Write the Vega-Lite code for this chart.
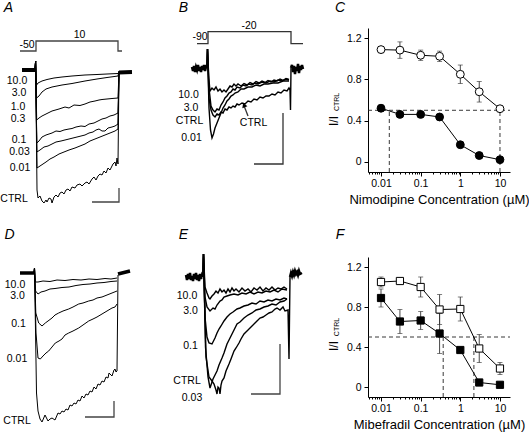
{
"$schema": "https://vega.github.io/schema/vega-lite/v6.json",
"background": "white",
"padding": 0,
"columns": 3,
"align": "each",
"bounds": "flush",
"spacing": {"row": 51, "column": 25},
"config": {
 "font": "Liberation Sans",
 "view": {"stroke": null},
 "axis": {"grid": false, "domainColor": "black", "tickColor": "black", "labelColor": "black", "titleColor": "black", "labelFontSize": 10.5, "titleFontWeight": "normal", "labelFont": "Liberation Sans", "titleFont": "Liberation Sans"},
 "text": {"font": "Liberation Sans", "fontSize": 10.5, "color": "black"}
},
"datasets": {
 "a_hold": [{"s":"pre","t":-14,"i":0},{"s":"pre","t":-1,"i":0},{"s":"post","t":83,"i":-2.5},{"s":"post","t":96,"i":-2}],
 "a_tr": [
  {"s":"10.0","t":-1,"i":0},{"s":"10.0","t":-0.4,"i":9},{"s":"10.0","t":0.6,"i":-15},{"s":"10.0","t":2,"i":-13},{"s":"10.0","t":6,"i":-11},{"s":"10.0","t":11,"i":-9.5},{"s":"10.0","t":18,"i":-8},{"s":"10.0","t":26,"i":-7},{"s":"10.0","t":36,"i":-6},{"s":"10.0","t":49,"i":-5},{"s":"10.0","t":61,"i":-4.5},{"s":"10.0","t":71,"i":-4},{"s":"10.0","t":82,"i":-3.5},{"s":"10.0","t":83,"i":-1.5},
  {"s":"3.0","t":-1,"i":0},{"s":"3.0","t":-0.4,"i":9},{"s":"3.0","t":0.6,"i":-28},{"s":"3.0","t":3,"i":-26},{"s":"3.0","t":6,"i":-22},{"s":"3.0","t":10,"i":-19},{"s":"3.0","t":16,"i":-17},{"s":"3.0","t":26,"i":-15},{"s":"3.0","t":36,"i":-13.5},{"s":"3.0","t":49,"i":-11},{"s":"3.0","t":61,"i":-9},{"s":"3.0","t":71,"i":-7.5},{"s":"3.0","t":82,"i":-6},{"s":"3.0","t":83,"i":-1.5},
  {"s":"0.3","t":-1,"i":0},{"s":"0.3","t":-0.4,"i":9},{"s":"0.3","t":0.7,"i":-50},{"s":"0.3","t":3,"i":-48},{"s":"0.3","t":6,"i":-46},{"s":"0.3","t":10,"i":-44},{"s":"0.3","t":16,"i":-41},{"s":"0.3","t":23,"i":-39},{"s":"0.3","t":29,"i":-37},{"s":"0.3","t":33,"i":-38},{"s":"0.3","t":38,"i":-35},{"s":"0.3","t":44,"i":-35.5},{"s":"0.3","t":49,"i":-34},{"s":"0.3","t":54,"i":-32},{"s":"0.3","t":59,"i":-31},{"s":"0.3","t":63,"i":-30},{"s":"0.3","t":66,"i":-29.5},{"s":"0.3","t":71,"i":-29},{"s":"0.3","t":76,"i":-28.5},{"s":"0.3","t":82,"i":-28},{"s":"0.3","t":83,"i":-1.5},
  {"s":"0.1","t":-1,"i":0},{"s":"0.1","t":-0.4,"i":9},{"s":"0.1","t":0.8,"i":-73},{"s":"0.1","t":3,"i":-71},{"s":"0.1","t":6,"i":-67},{"s":"0.1","t":10,"i":-65},{"s":"0.1","t":13,"i":-64},{"s":"0.1","t":16,"i":-63},{"s":"0.1","t":20,"i":-61},{"s":"0.1","t":24,"i":-61.5},{"s":"0.1","t":28,"i":-60},{"s":"0.1","t":33,"i":-59},{"s":"0.1","t":36,"i":-58.5},{"s":"0.1","t":40,"i":-57},{"s":"0.1","t":45,"i":-56},{"s":"0.1","t":49,"i":-56.5},{"s":"0.1","t":53,"i":-54},{"s":"0.1","t":58,"i":-53},{"s":"0.1","t":62,"i":-51},{"s":"0.1","t":66,"i":-49},{"s":"0.1","t":70,"i":-48},{"s":"0.1","t":74,"i":-46},{"s":"0.1","t":78,"i":-45},{"s":"0.1","t":82,"i":-43},{"s":"0.1","t":83,"i":-1.5},
  {"s":"0.03","t":-1,"i":0},{"s":"0.03","t":-0.4,"i":9},{"s":"0.03","t":0.9,"i":-82},{"s":"0.03","t":4,"i":-80},{"s":"0.03","t":8,"i":-77},{"s":"0.03","t":12,"i":-76},{"s":"0.03","t":16,"i":-74},{"s":"0.03","t":20,"i":-72},{"s":"0.03","t":25,"i":-71},{"s":"0.03","t":29,"i":-70},{"s":"0.03","t":33,"i":-69},{"s":"0.03","t":37,"i":-68},{"s":"0.03","t":41,"i":-67},{"s":"0.03","t":45,"i":-66},{"s":"0.03","t":49,"i":-65},{"s":"0.03","t":53,"i":-63},{"s":"0.03","t":57,"i":-62},{"s":"0.03","t":60,"i":-60},{"s":"0.03","t":63,"i":-59},{"s":"0.03","t":66,"i":-61},{"s":"0.03","t":69,"i":-61},{"s":"0.03","t":72,"i":-58},{"s":"0.03","t":76,"i":-57},{"s":"0.03","t":79,"i":-56},{"s":"0.03","t":82,"i":-54},{"s":"0.03","t":83,"i":-1.5},
  {"s":"0.01","t":-1,"i":0},{"s":"0.01","t":-0.4,"i":9},{"s":"0.01","t":1,"i":-98},{"s":"0.01","t":4,"i":-96},{"s":"0.01","t":7,"i":-94},{"s":"0.01","t":10,"i":-92},{"s":"0.01","t":14,"i":-89},{"s":"0.01","t":18,"i":-87},{"s":"0.01","t":23,"i":-84},{"s":"0.01","t":28,"i":-82},{"s":"0.01","t":33,"i":-80},{"s":"0.01","t":39,"i":-78},{"s":"0.01","t":44,"i":-76},{"s":"0.01","t":49,"i":-74},{"s":"0.01","t":54,"i":-71},{"s":"0.01","t":59,"i":-69},{"s":"0.01","t":64,"i":-67},{"s":"0.01","t":69,"i":-65},{"s":"0.01","t":74,"i":-63},{"s":"0.01","t":79,"i":-61},{"s":"0.01","t":82,"i":-59},{"s":"0.01","t":83,"i":-1.5},
  {"s":"CTRL","t":-1,"i":0},{"s":"CTRL","t":-0.4,"i":9},{"s":"CTRL","t":1,"i":-120},{"s":"CTRL","t":2,"i":-128},{"s":"CTRL","t":4,"i":-126},{"s":"CTRL","t":6,"i":-131},{"s":"CTRL","t":8,"i":-133},{"s":"CTRL","t":10,"i":-130},{"s":"CTRL","t":11,"i":-132},{"s":"CTRL","t":13,"i":-128},{"s":"CTRL","t":15,"i":-129},{"s":"CTRL","t":16,"i":-133},{"s":"CTRL","t":18,"i":-127},{"s":"CTRL","t":20,"i":-125},{"s":"CTRL","t":22,"i":-127},{"s":"CTRL","t":24,"i":-123},{"s":"CTRL","t":26,"i":-122},{"s":"CTRL","t":28,"i":-124},{"s":"CTRL","t":30,"i":-120},{"s":"CTRL","t":32,"i":-119},{"s":"CTRL","t":34,"i":-121},{"s":"CTRL","t":36,"i":-117},{"s":"CTRL","t":39,"i":-118},{"s":"CTRL","t":41,"i":-115},{"s":"CTRL","t":44,"i":-114},{"s":"CTRL","t":46,"i":-116},{"s":"CTRL","t":49,"i":-113},{"s":"CTRL","t":51,"i":-112},{"s":"CTRL","t":53,"i":-114},{"s":"CTRL","t":56,"i":-109},{"s":"CTRL","t":58,"i":-107},{"s":"CTRL","t":60,"i":-110},{"s":"CTRL","t":62,"i":-106},{"s":"CTRL","t":64,"i":-104},{"s":"CTRL","t":66,"i":-105},{"s":"CTRL","t":68,"i":-101},{"s":"CTRL","t":70,"i":-103},{"s":"CTRL","t":72,"i":-98},{"s":"CTRL","t":74,"i":-100},{"s":"CTRL","t":76,"i":-96},{"s":"CTRL","t":77,"i":-94},{"s":"CTRL","t":79,"i":-92},{"s":"CTRL","t":80,"i":-96},{"s":"CTRL","t":81,"i":-88},{"s":"CTRL","t":82,"i":-94},{"s":"CTRL","t":83,"i":-1.5}
 ],
 "a_shp": [{"g":"prot","k":0,"t":-16,"i":19},{"g":"prot","k":1,"t":0,"i":19},{"g":"prot","k":2,"t":0,"i":29},{"g":"prot","k":3,"t":82,"i":29},{"g":"prot","k":4,"t":82,"i":19},{"g":"prot","k":5,"t":86,"i":19},
  {"g":"bar","k":0,"t":56,"i":-132},{"g":"bar","k":1,"t":83,"i":-132},{"g":"bar","k":2,"t":83,"i":-118}],
 "a_txt": [{"txt":"-50","t":-9,"i":25.5},{"txt":"10","t":43.5,"i":35.5},{"txt":"10.0","t":-19,"i":-11},{"txt":"3.0","t":-17,"i":-23},{"txt":"1.0","t":-18,"i":-37},{"txt":"0.3","t":-18,"i":-49},{"txt":"0.1","t":-17,"i":-70},{"txt":"0.03","t":-16.5,"i":-82},{"txt":"0.01","t":-16,"i":-98},{"txt":"CTRL","t":-22,"i":-129}],

 "b_hold": [{"s":"pre","t":-16,"i":1},{"s":"pre","t":-15,"i":-3},{"s":"pre","t":-14,"i":2},{"s":"pre","t":-13,"i":-4},{"s":"pre","t":-12,"i":1},{"s":"pre","t":-11,"i":-2},{"s":"pre","t":-10,"i":3},{"s":"pre","t":-9,"i":-3},{"s":"pre","t":-8,"i":1},{"s":"pre","t":-7,"i":-4},{"s":"pre","t":-6,"i":2},{"s":"pre","t":-5,"i":-2},{"s":"pre","t":-4,"i":3},{"s":"pre","t":-3,"i":-3},{"s":"pre","t":-2,"i":1},{"s":"pre","t":-1,"i":0},
  {"s":"post","t":83,"i":0},{"s":"post","t":84,"i":3},{"s":"post","t":85,"i":-4},{"s":"post","t":86,"i":2},{"s":"post","t":87,"i":-6},{"s":"post","t":88,"i":1},{"s":"post","t":89,"i":-3},{"s":"post","t":90,"i":4},{"s":"post","t":91,"i":-5},{"s":"post","t":92,"i":2},{"s":"post","t":93,"i":-2},{"s":"post","t":94,"i":3},{"s":"post","t":95,"i":-1}],
 "b_tr": [
  {"s":"10.0","t":-1,"i":0},{"s":"10.0","t":-0.5,"i":19},{"s":"10.0","t":0.8,"i":-10},{"s":"10.0","t":2,"i":-23},{"s":"10.0","t":4,"i":-20},{"s":"10.0","t":6,"i":-22},{"s":"10.0","t":8,"i":-19},{"s":"10.0","t":10,"i":-23},{"s":"10.0","t":12,"i":-21},{"s":"10.0","t":14,"i":-24},{"s":"10.0","t":16,"i":-22},{"s":"10.0","t":18,"i":-24},{"s":"10.0","t":20,"i":-21},{"s":"10.0","t":22,"i":-18},{"s":"10.0","t":24,"i":-19},{"s":"10.0","t":26,"i":-16},{"s":"10.0","t":28,"i":-18},{"s":"10.0","t":30,"i":-16},{"s":"10.0","t":33,"i":-18},{"s":"10.0","t":36,"i":-15.5},{"s":"10.0","t":39,"i":-17},{"s":"10.0","t":42,"i":-14.5},{"s":"10.0","t":45,"i":-16},{"s":"10.0","t":48,"i":-13.5},{"s":"10.0","t":51,"i":-15},{"s":"10.0","t":54,"i":-13},{"s":"10.0","t":57,"i":-14.5},{"s":"10.0","t":60,"i":-12.5},{"s":"10.0","t":63,"i":-14},{"s":"10.0","t":66,"i":-12},{"s":"10.0","t":69,"i":-13},{"s":"10.0","t":72,"i":-11},{"s":"10.0","t":75,"i":-12.5},{"s":"10.0","t":78,"i":-10.5},{"s":"10.0","t":81,"i":-11.5},
  {"s":"3.0","t":-1,"i":0},{"s":"3.0","t":-0.5,"i":19},{"s":"3.0","t":1,"i":-20},{"s":"3.0","t":3,"i":-38},{"s":"3.0","t":5,"i":-42},{"s":"3.0","t":7,"i":-44},{"s":"3.0","t":9,"i":-41},{"s":"3.0","t":11,"i":-42},{"s":"3.0","t":13,"i":-37},{"s":"3.0","t":15,"i":-34},{"s":"3.0","t":17,"i":-30},{"s":"3.0","t":19,"i":-28},{"s":"3.0","t":21,"i":-25},{"s":"3.0","t":23,"i":-24},{"s":"3.0","t":25,"i":-21},{"s":"3.0","t":27,"i":-22},{"s":"3.0","t":29,"i":-19},{"s":"3.0","t":32,"i":-20},{"s":"3.0","t":35,"i":-17},{"s":"3.0","t":38,"i":-18},{"s":"3.0","t":41,"i":-16},{"s":"3.0","t":44,"i":-17},{"s":"3.0","t":47,"i":-15},{"s":"3.0","t":50,"i":-16},{"s":"3.0","t":54,"i":-14},{"s":"3.0","t":58,"i":-15},{"s":"3.0","t":62,"i":-13},{"s":"3.0","t":66,"i":-14},{"s":"3.0","t":70,"i":-12},{"s":"3.0","t":74,"i":-13},{"s":"3.0","t":78,"i":-11},{"s":"3.0","t":81,"i":-12},
  {"s":"CTRL","t":-1,"i":0},{"s":"CTRL","t":-0.5,"i":19},{"s":"CTRL","t":1,"i":-30},{"s":"CTRL","t":3,"i":-42},{"s":"CTRL","t":5,"i":-47},{"s":"CTRL","t":7,"i":-49},{"s":"CTRL","t":9,"i":-46},{"s":"CTRL","t":11,"i":-47},{"s":"CTRL","t":13,"i":-44},{"s":"CTRL","t":15,"i":-45},{"s":"CTRL","t":17,"i":-41},{"s":"CTRL","t":19,"i":-42},{"s":"CTRL","t":21,"i":-39},{"s":"CTRL","t":23,"i":-40},{"s":"CTRL","t":25,"i":-38},{"s":"CTRL","t":27,"i":-39},{"s":"CTRL","t":29,"i":-36},{"s":"CTRL","t":31,"i":-37},{"s":"CTRL","t":34,"i":-35},{"s":"CTRL","t":37,"i":-36},{"s":"CTRL","t":40,"i":-33},{"s":"CTRL","t":43,"i":-34},{"s":"CTRL","t":46,"i":-31},{"s":"CTRL","t":49,"i":-32},{"s":"CTRL","t":52,"i":-29},{"s":"CTRL","t":55,"i":-30},{"s":"CTRL","t":58,"i":-28},{"s":"CTRL","t":61,"i":-28},{"s":"CTRL","t":64,"i":-26},{"s":"CTRL","t":67,"i":-27},{"s":"CTRL","t":70,"i":-24},{"s":"CTRL","t":73,"i":-25},{"s":"CTRL","t":76,"i":-22},{"s":"CTRL","t":79,"i":-23},{"s":"CTRL","t":81,"i":-20},{"s":"CTRL","t":82,"i":-22},{"s":"CTRL","t":82.5,"i":-42},{"s":"CTRL","t":83,"i":0},
  {"s":"0.01","t":-1,"i":0},{"s":"0.01","t":-0.5,"i":19},{"s":"0.01","t":1,"i":-40},{"s":"0.01","t":2.5,"i":-62},{"s":"0.01","t":4,"i":-70},{"s":"0.01","t":5.5,"i":-66},{"s":"0.01","t":7,"i":-60},{"s":"0.01","t":9,"i":-55},{"s":"0.01","t":11,"i":-50},{"s":"0.01","t":13,"i":-45},{"s":"0.01","t":15,"i":-40},{"s":"0.01","t":17,"i":-37},{"s":"0.01","t":19,"i":-33},{"s":"0.01","t":21,"i":-31},{"s":"0.01","t":23,"i":-28},{"s":"0.01","t":25,"i":-27},{"s":"0.01","t":27,"i":-25},{"s":"0.01","t":30,"i":-24},{"s":"0.01","t":33,"i":-21},{"s":"0.01","t":36,"i":-21},{"s":"0.01","t":40,"i":-19},{"s":"0.01","t":44,"i":-19},{"s":"0.01","t":48,"i":-17},{"s":"0.01","t":52,"i":-18},{"s":"0.01","t":56,"i":-16},{"s":"0.01","t":60,"i":-16},{"s":"0.01","t":65,"i":-15},{"s":"0.01","t":70,"i":-15},{"s":"0.01","t":75,"i":-13},{"s":"0.01","t":81,"i":-13}
 ],
 "b_shp": [{"g":"prot","k":0,"t":-11,"i":24.3},{"g":"prot","k":1,"t":0,"i":24.3},{"g":"prot","k":2,"t":0,"i":36.3},{"g":"prot","k":3,"t":83,"i":36.3},{"g":"prot","k":4,"t":83,"i":24.3},{"g":"prot","k":5,"t":95,"i":24.3},
  {"g":"bar","k":0,"t":46,"i":-96},{"g":"bar","k":1,"t":75,"i":-96},{"g":"bar","k":2,"t":75,"i":-45},
  {"g":"arrow","k":0,"t":40,"i":-48},{"g":"arrow","k":1,"t":36.5,"i":-39}],
 "b_txt": [{"txt":"-90","t":-8,"i":31},{"txt":"-20","t":41,"i":42},{"txt":"10.0","t":-19.5,"i":-27},{"txt":"3.0","t":-17,"i":-40},{"txt":"CTRL","t":-18.5,"i":-53},{"txt":"0.01","t":-16.5,"i":-70},{"txt":"CTRL","t":45.5,"i":-55}],

 "d_hold": [{"s":"pre","t":-15,"i":0},{"s":"pre","t":-1,"i":0},{"s":"post","t":83,"i":-1},{"s":"post","t":95,"i":2}],
 "d_tr": [
  {"s":"10.0","t":-1,"i":0},{"s":"10.0","t":-0.5,"i":5},{"s":"10.0","t":0.5,"i":-9},{"s":"10.0","t":3,"i":-9},{"s":"10.0","t":8,"i":-8},{"s":"10.0","t":15,"i":-8.5},{"s":"10.0","t":22,"i":-7},{"s":"10.0","t":30,"i":-7.5},{"s":"10.0","t":38,"i":-6.5},{"s":"10.0","t":46,"i":-7},{"s":"10.0","t":54,"i":-6},{"s":"10.0","t":62,"i":-6.5},{"s":"10.0","t":70,"i":-5.5},{"s":"10.0","t":76,"i":-6},{"s":"10.0","t":82,"i":-5},
  {"s":"3.0","t":-1,"i":0},{"s":"3.0","t":-0.5,"i":5},{"s":"3.0","t":0.6,"i":-18},{"s":"3.0","t":3,"i":-21},{"s":"3.0","t":6,"i":-19},{"s":"3.0","t":10,"i":-18},{"s":"3.0","t":15,"i":-16},{"s":"3.0","t":20,"i":-15.5},{"s":"3.0","t":27,"i":-14.5},{"s":"3.0","t":34,"i":-14},{"s":"3.0","t":41,"i":-12.5},{"s":"3.0","t":48,"i":-11.5},{"s":"3.0","t":55,"i":-11},{"s":"3.0","t":62,"i":-10},{"s":"3.0","t":69,"i":-9.5},{"s":"3.0","t":76,"i":-8.5},{"s":"3.0","t":82,"i":-8},
  {"s":"0.1","t":-1,"i":0},{"s":"0.1","t":-0.5,"i":5},{"s":"0.1","t":0.8,"i":-40},{"s":"0.1","t":3.7,"i":-50},{"s":"0.1","t":7,"i":-53},{"s":"0.1","t":10.3,"i":-50},{"s":"0.1","t":13,"i":-48},{"s":"0.1","t":17,"i":-45},{"s":"0.1","t":20,"i":-42},{"s":"0.1","t":23.7,"i":-40},{"s":"0.1","t":28,"i":-38},{"s":"0.1","t":33.7,"i":-36},{"s":"0.1","t":38,"i":-34},{"s":"0.1","t":43.7,"i":-31},{"s":"0.1","t":48,"i":-30},{"s":"0.1","t":53.7,"i":-28},{"s":"0.1","t":58,"i":-27},{"s":"0.1","t":62,"i":-25},{"s":"0.1","t":67,"i":-24},{"s":"0.1","t":72,"i":-22},{"s":"0.1","t":77,"i":-20},{"s":"0.1","t":82,"i":-18},
  {"s":"0.01","t":-1,"i":0},{"s":"0.01","t":-0.5,"i":5},{"s":"0.01","t":1,"i":-60},{"s":"0.01","t":3,"i":-85},{"s":"0.01","t":5.3,"i":-86},{"s":"0.01","t":8,"i":-83},{"s":"0.01","t":11,"i":-80},{"s":"0.01","t":13.7,"i":-78},{"s":"0.01","t":17,"i":-74},{"s":"0.01","t":20.3,"i":-70},{"s":"0.01","t":24,"i":-68},{"s":"0.01","t":27,"i":-66},{"s":"0.01","t":30,"i":-62},{"s":"0.01","t":33.7,"i":-60},{"s":"0.01","t":38,"i":-58},{"s":"0.01","t":43.7,"i":-55},{"s":"0.01","t":48,"i":-52},{"s":"0.01","t":53.7,"i":-48},{"s":"0.01","t":58,"i":-46},{"s":"0.01","t":62,"i":-44},{"s":"0.01","t":67,"i":-41},{"s":"0.01","t":72,"i":-38},{"s":"0.01","t":77,"i":-35},{"s":"0.01","t":80,"i":-34},{"s":"0.01","t":82,"i":-31},
  {"s":"CTRL","t":-1,"i":0},{"s":"CTRL","t":-0.5,"i":5},{"s":"CTRL","t":1.5,"i":-120},{"s":"CTRL","t":3,"i":-138},{"s":"CTRL","t":5,"i":-146},{"s":"CTRL","t":7,"i":-149},{"s":"CTRL","t":10,"i":-142},{"s":"CTRL","t":13,"i":-148},{"s":"CTRL","t":15,"i":-146},{"s":"CTRL","t":17,"i":-145},{"s":"CTRL","t":20,"i":-147},{"s":"CTRL","t":23,"i":-140},{"s":"CTRL","t":25,"i":-141},{"s":"CTRL","t":27,"i":-138},{"s":"CTRL","t":29,"i":-139},{"s":"CTRL","t":31,"i":-136},{"s":"CTRL","t":33,"i":-137},{"s":"CTRL","t":35,"i":-132},{"s":"CTRL","t":37,"i":-133},{"s":"CTRL","t":39,"i":-130},{"s":"CTRL","t":41,"i":-131},{"s":"CTRL","t":43,"i":-127},{"s":"CTRL","t":45,"i":-128},{"s":"CTRL","t":47,"i":-123},{"s":"CTRL","t":49,"i":-125},{"s":"CTRL","t":51,"i":-121},{"s":"CTRL","t":53,"i":-122},{"s":"CTRL","t":55,"i":-118},{"s":"CTRL","t":57,"i":-119},{"s":"CTRL","t":59,"i":-114},{"s":"CTRL","t":61,"i":-116},{"s":"CTRL","t":63,"i":-111},{"s":"CTRL","t":65,"i":-112},{"s":"CTRL","t":67,"i":-108},{"s":"CTRL","t":69,"i":-109},{"s":"CTRL","t":71,"i":-104},{"s":"CTRL","t":73,"i":-105},{"s":"CTRL","t":74,"i":-100},{"s":"CTRL","t":76,"i":-102},{"s":"CTRL","t":77,"i":-103},{"s":"CTRL","t":79,"i":-97},{"s":"CTRL","t":80,"i":-96},{"s":"CTRL","t":81,"i":-99},{"s":"CTRL","t":82,"i":-98},{"s":"CTRL","t":83,"i":-2}
 ],
 "d_shp": [{"g":"bar","k":0,"t":50,"i":-144},{"g":"bar","k":1,"t":79,"i":-144},{"g":"bar","k":2,"t":79,"i":-128}],
 "d_txt": [{"txt":"10.0","t":-20,"i":-12},{"txt":"3.0","t":-17.5,"i":-23},{"txt":"0.1","t":-16.5,"i":-51},{"txt":"0.01","t":-18,"i":-86},{"txt":"CTRL","t":-18,"i":-148}],

 "e_hold": [{"s":"pre","t":-18,"i":2},{"s":"pre","t":-17,"i":-3},{"s":"pre","t":-16,"i":3},{"s":"pre","t":-15,"i":-2},{"s":"pre","t":-14,"i":4},{"s":"pre","t":-13,"i":-3},{"s":"pre","t":-12,"i":1},{"s":"pre","t":-11,"i":-4},{"s":"pre","t":-10,"i":3},{"s":"pre","t":-9,"i":-2},{"s":"pre","t":-8,"i":4},{"s":"pre","t":-7,"i":-3},{"s":"pre","t":-6,"i":2},{"s":"pre","t":-5,"i":-4},{"s":"pre","t":-4,"i":3},{"s":"pre","t":-3,"i":-2},{"s":"pre","t":-2,"i":2},{"s":"pre","t":-1,"i":0},
  {"s":"post","t":86,"i":0},{"s":"post","t":87,"i":4},{"s":"post","t":88,"i":1},{"s":"post","t":89,"i":5},{"s":"post","t":90,"i":2},{"s":"post","t":91,"i":6},{"s":"post","t":92,"i":3},{"s":"post","t":93,"i":5},{"s":"post","t":94,"i":2},{"s":"post","t":95,"i":6},{"s":"post","t":96,"i":3},{"s":"post","t":98,"i":4}],
 "e_tr": [
  {"s":"10.0","t":-1,"i":0},{"s":"10.0","t":-0.5,"i":23},{"s":"10.0","t":1,"i":-10},{"s":"10.0","t":3,"i":-16},{"s":"10.0","t":5,"i":-21},{"s":"10.0","t":6,"i":-22},{"s":"10.0","t":8,"i":-19},{"s":"10.0","t":10,"i":-17},{"s":"10.0","t":12,"i":-14},{"s":"10.0","t":14,"i":-16},{"s":"10.0","t":16,"i":-12},{"s":"10.0","t":18,"i":-15},{"s":"10.0","t":20,"i":-13},{"s":"10.0","t":22,"i":-16},{"s":"10.0","t":24,"i":-12},{"s":"10.0","t":26,"i":-15},{"s":"10.0","t":28,"i":-11},{"s":"10.0","t":30,"i":-14},{"s":"10.0","t":32,"i":-12},{"s":"10.0","t":35,"i":-15},{"s":"10.0","t":38,"i":-11},{"s":"10.0","t":41,"i":-14},{"s":"10.0","t":44,"i":-12},{"s":"10.0","t":47,"i":-15},{"s":"10.0","t":50,"i":-11},{"s":"10.0","t":53,"i":-13},{"s":"10.0","t":56,"i":-10},{"s":"10.0","t":59,"i":-14},{"s":"10.0","t":62,"i":-11},{"s":"10.0","t":65,"i":-13},{"s":"10.0","t":68,"i":-10},{"s":"10.0","t":71,"i":-13},{"s":"10.0","t":74,"i":-11},{"s":"10.0","t":77,"i":-12},{"s":"10.0","t":80,"i":-10},{"s":"10.0","t":83,"i":-12},
  {"s":"3.0","t":-1,"i":0},{"s":"3.0","t":-0.5,"i":23},{"s":"3.0","t":1,"i":-20},{"s":"3.0","t":3,"i":-30},{"s":"3.0","t":6,"i":-34},{"s":"3.0","t":9,"i":-31},{"s":"3.0","t":11,"i":-32},{"s":"3.0","t":13,"i":-28},{"s":"3.0","t":16,"i":-24},{"s":"3.0","t":18,"i":-23},{"s":"3.0","t":20,"i":-20},{"s":"3.0","t":23,"i":-19},{"s":"3.0","t":26,"i":-18},{"s":"3.0","t":30,"i":-17},{"s":"3.0","t":34,"i":-18},{"s":"3.0","t":38,"i":-16},{"s":"3.0","t":42,"i":-17},{"s":"3.0","t":46,"i":-15},{"s":"3.0","t":50,"i":-17},{"s":"3.0","t":54,"i":-15},{"s":"3.0","t":58,"i":-16},{"s":"3.0","t":62,"i":-14},{"s":"3.0","t":66,"i":-15},{"s":"3.0","t":70,"i":-13},{"s":"3.0","t":74,"i":-15},{"s":"3.0","t":78,"i":-12},{"s":"3.0","t":83,"i":-13},
  {"s":"0.1","t":-1,"i":0},{"s":"0.1","t":-0.5,"i":23},{"s":"0.1","t":1,"i":-40},{"s":"0.1","t":3,"i":-60},{"s":"0.1","t":5,"i":-66},{"s":"0.1","t":8,"i":-67},{"s":"0.1","t":11,"i":-61},{"s":"0.1","t":13,"i":-56},{"s":"0.1","t":15,"i":-52},{"s":"0.1","t":17,"i":-49},{"s":"0.1","t":20,"i":-44},{"s":"0.1","t":23,"i":-40},{"s":"0.1","t":26,"i":-37},{"s":"0.1","t":29,"i":-35},{"s":"0.1","t":33,"i":-32},{"s":"0.1","t":36,"i":-31},{"s":"0.1","t":40,"i":-29},{"s":"0.1","t":44,"i":-28},{"s":"0.1","t":48,"i":-26},{"s":"0.1","t":52,"i":-27},{"s":"0.1","t":56,"i":-24},{"s":"0.1","t":60,"i":-25},{"s":"0.1","t":64,"i":-23},{"s":"0.1","t":68,"i":-24},{"s":"0.1","t":72,"i":-22},{"s":"0.1","t":76,"i":-23},{"s":"0.1","t":80,"i":-21},{"s":"0.1","t":83,"i":-22},
  {"s":"CTRL","t":-1,"i":0},{"s":"CTRL","t":-0.5,"i":23},{"s":"CTRL","t":1.5,"i":-70},{"s":"CTRL","t":4,"i":-100},{"s":"CTRL","t":6,"i":-111},{"s":"CTRL","t":8,"i":-105},{"s":"CTRL","t":9,"i":-102},{"s":"CTRL","t":11,"i":-98},{"s":"CTRL","t":13,"i":-94},{"s":"CTRL","t":15,"i":-88},{"s":"CTRL","t":18,"i":-81},{"s":"CTRL","t":20,"i":-76},{"s":"CTRL","t":23,"i":-67},{"s":"CTRL","t":25,"i":-63},{"s":"CTRL","t":28,"i":-57},{"s":"CTRL","t":30,"i":-53},{"s":"CTRL","t":33,"i":-47},{"s":"CTRL","t":36,"i":-45},{"s":"CTRL","t":40,"i":-41},{"s":"CTRL","t":44,"i":-38},{"s":"CTRL","t":48,"i":-36},{"s":"CTRL","t":52,"i":-33},{"s":"CTRL","t":56,"i":-32},{"s":"CTRL","t":60,"i":-30},{"s":"CTRL","t":64,"i":-29},{"s":"CTRL","t":68,"i":-27},{"s":"CTRL","t":72,"i":-28},{"s":"CTRL","t":76,"i":-25},{"s":"CTRL","t":80,"i":-24},{"s":"CTRL","t":83,"i":-22},
  {"s":"0.03","t":-1,"i":0},{"s":"0.03","t":-0.5,"i":23},{"s":"0.03","t":2,"i":-80},{"s":"0.03","t":5,"i":-100},{"s":"0.03","t":8,"i":-104},{"s":"0.03","t":10,"i":-107},{"s":"0.03","t":12,"i":-113},{"s":"0.03","t":13,"i":-117},{"s":"0.03","t":14,"i":-110},{"s":"0.03","t":15,"i":-111},{"s":"0.03","t":16,"i":-117},{"s":"0.03","t":17,"i":-108},{"s":"0.03","t":18,"i":-104},{"s":"0.03","t":20,"i":-101},{"s":"0.03","t":22,"i":-94},{"s":"0.03","t":25,"i":-87},{"s":"0.03","t":27,"i":-82},{"s":"0.03","t":30,"i":-74},{"s":"0.03","t":32,"i":-71},{"s":"0.03","t":35,"i":-66},{"s":"0.03","t":37,"i":-62},{"s":"0.03","t":40,"i":-57},{"s":"0.03","t":43,"i":-54},{"s":"0.03","t":46,"i":-51},{"s":"0.03","t":48,"i":-49},{"s":"0.03","t":51,"i":-46},{"s":"0.03","t":53,"i":-44},{"s":"0.03","t":56,"i":-41},{"s":"0.03","t":59,"i":-40},{"s":"0.03","t":62,"i":-38},{"s":"0.03","t":65,"i":-36},{"s":"0.03","t":68,"i":-35},{"s":"0.03","t":71,"i":-32},{"s":"0.03","t":73,"i":-31},{"s":"0.03","t":76,"i":-33},{"s":"0.03","t":79,"i":-30},{"s":"0.03","t":81,"i":-34},{"s":"0.03","t":84,"i":-33},{"s":"0.03","t":85,"i":-82},{"s":"0.03","t":86,"i":0}
 ],
 "e_shp": [{"g":"bar","k":0,"t":47,"i":-117},{"g":"bar","k":1,"t":76,"i":-117},{"g":"bar","k":2,"t":76,"i":-67}],
 "e_txt": [{"txt":"10.0","t":-17,"i":-19},{"txt":"3.0","t":-13.5,"i":-34},{"txt":"0.1","t":-13.5,"i":-69},{"txt":"CTRL","t":-17,"i":-104},{"txt":"0.03","t":-12,"i":-121}],

 "c_pts": [
  {"set":"open","c":0.01,"r":1.09,"lo":1.06,"hi":1.12},{"set":"open","c":0.03,"r":1.085,"lo":1.005,"hi":1.165},{"set":"open","c":0.1,"r":1.035,"lo":0.985,"hi":1.085},{"set":"open","c":0.3,"r":1.025,"lo":0.975,"hi":1.075},{"set":"open","c":1,"r":0.85,"lo":0.76,"hi":0.94},{"set":"open","c":3,"r":0.68,"lo":0.58,"hi":0.78},{"set":"open","c":10,"r":0.515,"lo":0.495,"hi":0.535},
  {"set":"filled","c":0.01,"r":0.52,"lo":0.49,"hi":0.55},{"set":"filled","c":0.03,"r":0.46,"lo":0.44,"hi":0.48},{"set":"filled","c":0.1,"r":0.46,"lo":0.43,"hi":0.49},{"set":"filled","c":0.3,"r":0.435,"lo":0.415,"hi":0.455},{"set":"filled","c":1,"r":0.165,"lo":0.145,"hi":0.185},{"set":"filled","c":3,"r":0.06,"lo":0.04,"hi":0.08},{"set":"filled","c":10,"r":0.02,"lo":0.01,"hi":0.03}
 ],
 "c_ref": [{"c":0.0162,"lo":-0.1,"hi":0.5},{"c":10,"lo":-0.1,"hi":0.5}],
 "c_half": [{"c":0.0047,"c2":17.9,"r":0.5}],
 "f_pts": [
  {"set":"open","c":0.01,"r":1.05,"lo":1.0,"hi":1.1},{"set":"open","c":0.03,"r":1.06,"lo":1.03,"hi":1.09},{"set":"open","c":0.1,"r":1.0,"lo":0.9,"hi":1.1},{"set":"open","c":0.3,"r":0.775,"lo":0.625,"hi":0.925},{"set":"open","c":1,"r":0.78,"lo":0.66,"hi":0.9},{"set":"open","c":3,"r":0.385,"lo":0.245,"hi":0.525},{"set":"open","c":10,"r":0.185,"lo":0.125,"hi":0.245},
  {"set":"filled","c":0.01,"r":0.89,"lo":0.8,"hi":0.98},{"set":"filled","c":0.03,"r":0.655,"lo":0.535,"hi":0.775},{"set":"filled","c":0.1,"r":0.665,"lo":0.575,"hi":0.755},{"set":"filled","c":0.3,"r":0.535,"lo":0.335,"hi":0.735},{"set":"filled","c":1,"r":0.37,"lo":0.35,"hi":0.39},{"set":"filled","c":3,"r":0.045,"lo":0.025,"hi":0.065},{"set":"filled","c":10,"r":0.022,"lo":0.012,"hi":0.032}
 ],
 "f_ref": [{"c":0.37,"lo":-0.1,"hi":0.5},{"c":2.2,"lo":-0.1,"hi":0.5}],
 "f_half": [{"c":0.0047,"c2":17.9,"r":0.5}]
},
"concat": [
 {
  "width": 150, "height": 178,
  "layer": [
   {"data": {"name": "a_hold"}, "mark": {"type": "line", "color": "black", "strokeWidth": 4},
    "encoding": {"x": {"field": "t", "type": "quantitative", "scale": {"domain": [-34, 116], "nice": false, "zero": false}, "axis": null},
                 "y": {"field": "i", "type": "quantitative", "scale": {"domain": [-136, 42], "nice": false, "zero": false}, "axis": null},
                 "detail": {"field": "s"}}},
   {"data": {"name": "a_tr"}, "mark": {"type": "line", "color": "black", "strokeWidth": 1},
    "encoding": {"x": {"field": "t", "type": "quantitative", "axis": null}, "y": {"field": "i", "type": "quantitative", "axis": null}, "detail": {"field": "s"}}},
   {"data": {"name": "a_shp"}, "mark": {"type": "line", "color": "#444", "strokeWidth": 1.3},
    "encoding": {"x": {"field": "t", "type": "quantitative", "axis": null}, "y": {"field": "i", "type": "quantitative", "axis": null}, "detail": {"field": "g"}, "order": {"field": "k"}}},
   {"data": {"name": "a_txt"}, "mark": {"type": "text"},
    "encoding": {"x": {"field": "t", "type": "quantitative", "axis": null}, "y": {"field": "i", "type": "quantitative", "axis": null}, "text": {"field": "txt"}}},
   {"data": {"values": [{"p": "A", "t": -27.5, "i": 62.5}]}, "mark": {"type": "text", "fontSize": 14, "fontStyle": "italic"},
    "encoding": {"x": {"field": "t", "type": "quantitative", "axis": null}, "y": {"field": "i", "type": "quantitative", "axis": null}, "text": {"field": "p"}}}
  ]
 },
 {
  "width": 166, "height": 178,
  "layer": [
   {"data": {"name": "b_hold"}, "mark": {"type": "line", "color": "black", "strokeWidth": 2.5},
    "encoding": {"x": {"field": "t", "type": "quantitative", "scale": {"domain": [-31, 135], "nice": false, "zero": false}, "axis": null},
                 "y": {"field": "i", "type": "quantitative", "scale": {"domain": [-138, 40], "nice": false, "zero": false}, "axis": null},
                 "detail": {"field": "s"}}},
   {"data": {"name": "b_tr"}, "mark": {"type": "line", "color": "black", "strokeWidth": 1.4},
    "encoding": {"x": {"field": "t", "type": "quantitative", "axis": null}, "y": {"field": "i", "type": "quantitative", "axis": null}, "detail": {"field": "s"}}},
   {"data": {"name": "b_shp"}, "mark": {"type": "line", "color": "#333", "strokeWidth": 1.3},
    "encoding": {"x": {"field": "t", "type": "quantitative", "axis": null}, "y": {"field": "i", "type": "quantitative", "axis": null}, "detail": {"field": "g"}, "order": {"field": "k"}}},
   {"data": {"values": [{"t": 36, "i": -37}]}, "mark": {"type": "point", "shape": "triangle-up", "filled": true, "color": "black", "size": 30, "angle": 338, "opacity": 1},
    "encoding": {"x": {"field": "t", "type": "quantitative", "axis": null}, "y": {"field": "i", "type": "quantitative", "axis": null}}},
   {"data": {"name": "b_txt"}, "mark": {"type": "text"},
    "encoding": {"x": {"field": "t", "type": "quantitative", "axis": null}, "y": {"field": "i", "type": "quantitative", "axis": null}, "text": {"field": "txt"}}},
   {"data": {"values": [{"p": "B", "t": -24.5, "i": 60}]}, "mark": {"type": "text", "fontSize": 14, "fontStyle": "italic"},
    "encoding": {"x": {"field": "t", "type": "quantitative", "axis": null}, "y": {"field": "i", "type": "quantitative", "axis": null}, "text": {"field": "p"}}}
  ]
 },
 {
  "width": 142, "height": 144,
  "data": {"name": "c_pts"},
  "encoding": {
   "x": {"field": "c", "type": "quantitative", "title": "Nimodipine Concentration (µM)", "scale": {"type": "log", "domain": [0.0047, 17.9], "nice": false},
     "axis": {"values": [0.005,0.006,0.007,0.008,0.009,0.01,0.02,0.03,0.04,0.05,0.06,0.07,0.08,0.09,0.1,0.2,0.3,0.4,0.5,0.6,0.7,0.8,0.9,1,2,3,4,5,6,7,8,9,10],
      "labelExpr": "indexof([0.01,0.1,1,10], datum.value) >= 0 ? datum.label : ''", "format": "~g",
      "tickSize": {"condition": {"test": "indexof([0.01,0.1,1,10], datum.value) >= 0", "value": 4}, "value": 2},
      "labelOverlap": false, "labelFlush": false, "labelPadding": 2, "titleFontSize": 13, "titlePadding": 5}},
   "y": {"field": "r", "type": "quantitative", "title": null, "scale": {"domain": [-0.1, 1.3], "nice": false, "zero": false},
     "axis": {"values": [0, 0.4, 0.8, 1.2], "format": ".1~f", "tickSize": 4, "labelPadding": 3}}
  },
  "layer": [
   {"data": {"name": "c_ref"}, "mark": {"type": "rule", "strokeDash": [4, 3], "color": "#222", "strokeWidth": 0.9},
    "encoding": {"y": {"field": "lo", "type": "quantitative"}, "y2": {"field": "hi"}}},
   {"data": {"name": "c_half"}, "mark": {"type": "rule", "strokeDash": [4, 3], "color": "#222", "strokeWidth": 0.9},
    "encoding": {"x2": {"field": "c2"}}},
   {"mark": {"type": "rule", "color": "#333", "strokeWidth": 0.9},
    "encoding": {"y": {"field": "lo", "type": "quantitative"}, "y2": {"field": "hi"}}},
   {"mark": {"type": "tick", "orient": "horizontal", "size": 5, "thickness": 0.9, "color": "#333"},
    "encoding": {"y": {"field": "lo", "type": "quantitative"}}},
   {"mark": {"type": "tick", "orient": "horizontal", "size": 5, "thickness": 0.9, "color": "#333"},
    "encoding": {"y": {"field": "hi", "type": "quantitative"}}},
   {"mark": {"type": "line", "color": "black", "strokeWidth": 1},
    "encoding": {"detail": {"field": "set"}}},
   {"mark": {"type": "point", "shape": "circle", "filled": true, "stroke": "black", "strokeWidth": 1, "size": 62, "opacity": 1},
    "encoding": {"fill": {"field": "set", "type": "nominal", "scale": {"domain": ["open", "filled"], "range": ["white", "black"]}, "legend": null}}},
   {"data": {"values": [{"txt": "I/I", "c": 0.00065, "r": 0.396}]}, "mark": {"type": "text", "angle": 270, "fontSize": 12},
    "encoding": {"text": {"field": "txt"}}},
   {"data": {"values": [{"txt": "CTRL", "c": 0.00078, "r": 0.581}]}, "mark": {"type": "text", "angle": 270, "fontSize": 7},
    "encoding": {"text": {"field": "txt"}}},
   {"data": {"values": [{"txt": "C", "c": 0.000925, "r": 1.494}]}, "mark": {"type": "text", "fontSize": 14, "fontStyle": "italic"},
    "encoding": {"text": {"field": "txt"}}}
  ]
 },
 {
  "width": 150, "height": 170,
  "layer": [
   {"data": {"name": "d_hold"}, "mark": {"type": "line", "color": "black", "strokeWidth": 3.5},
    "encoding": {"x": {"field": "t", "type": "quantitative", "scale": {"domain": [-33, 117], "nice": false, "zero": false}, "axis": null},
                 "y": {"field": "i", "type": "quantitative", "scale": {"domain": [-154, 16], "nice": false, "zero": false}, "axis": null},
                 "detail": {"field": "s"}}},
   {"data": {"name": "d_tr"}, "mark": {"type": "line", "color": "black", "strokeWidth": 1},
    "encoding": {"x": {"field": "t", "type": "quantitative", "axis": null}, "y": {"field": "i", "type": "quantitative", "axis": null}, "detail": {"field": "s"}}},
   {"data": {"name": "d_shp"}, "mark": {"type": "line", "color": "#444", "strokeWidth": 1.3},
    "encoding": {"x": {"field": "t", "type": "quantitative", "axis": null}, "y": {"field": "i", "type": "quantitative", "axis": null}, "detail": {"field": "g"}, "order": {"field": "k"}}},
   {"data": {"name": "d_txt"}, "mark": {"type": "text"},
    "encoding": {"x": {"field": "t", "type": "quantitative", "axis": null}, "y": {"field": "i", "type": "quantitative", "axis": null}, "text": {"field": "txt"}}},
   {"data": {"values": [{"p": "D", "t": -25.5, "i": 38}]}, "mark": {"type": "text", "fontSize": 14, "fontStyle": "italic"},
    "encoding": {"x": {"field": "t", "type": "quantitative", "axis": null}, "y": {"field": "i", "type": "quantitative", "axis": null}, "text": {"field": "p"}}}
  ]
 },
 {
  "width": 166, "height": 170,
  "layer": [
   {"data": {"name": "e_hold"}, "mark": {"type": "line", "color": "black", "strokeWidth": 2.5},
    "encoding": {"x": {"field": "t", "type": "quantitative", "scale": {"domain": [-27, 139], "nice": false, "zero": false}, "axis": null},
                 "y": {"field": "i", "type": "quantitative", "scale": {"domain": [-150, 20], "nice": false, "zero": false}, "axis": null},
                 "detail": {"field": "s"}}},
   {"data": {"name": "e_tr"}, "mark": {"type": "line", "color": "black", "strokeWidth": 1.4},
    "encoding": {"x": {"field": "t", "type": "quantitative", "axis": null}, "y": {"field": "i", "type": "quantitative", "axis": null}, "detail": {"field": "s"}}},
   {"data": {"name": "e_shp"}, "mark": {"type": "line", "color": "#444", "strokeWidth": 1.3},
    "encoding": {"x": {"field": "t", "type": "quantitative", "axis": null}, "y": {"field": "i", "type": "quantitative", "axis": null}, "detail": {"field": "g"}, "order": {"field": "k"}}},
   {"data": {"name": "e_txt"}, "mark": {"type": "text"},
    "encoding": {"x": {"field": "t", "type": "quantitative", "axis": null}, "y": {"field": "i", "type": "quantitative", "axis": null}, "text": {"field": "txt"}}},
   {"data": {"values": [{"p": "E", "t": -20.5, "i": 42}]}, "mark": {"type": "text", "fontSize": 14, "fontStyle": "italic"},
    "encoding": {"x": {"field": "t", "type": "quantitative", "axis": null}, "y": {"field": "i", "type": "quantitative", "axis": null}, "text": {"field": "p"}}}
  ]
 },
 {
  "width": 142, "height": 140,
  "data": {"name": "f_pts"},
  "encoding": {
   "x": {"field": "c", "type": "quantitative", "title": "Mibefradil Concentration (µM)", "scale": {"type": "log", "domain": [0.0047, 17.9], "nice": false},
     "axis": {"values": [0.005,0.006,0.007,0.008,0.009,0.01,0.02,0.03,0.04,0.05,0.06,0.07,0.08,0.09,0.1,0.2,0.3,0.4,0.5,0.6,0.7,0.8,0.9,1,2,3,4,5,6,7,8,9,10],
      "labelExpr": "indexof([0.01,0.1,1,10], datum.value) >= 0 ? datum.label : ''", "format": "~g",
      "tickSize": {"condition": {"test": "indexof([0.01,0.1,1,10], datum.value) >= 0", "value": 4}, "value": 2},
      "labelOverlap": false, "labelFlush": false, "labelPadding": 2, "titleFontSize": 13, "titlePadding": 5}},
   "y": {"field": "r", "type": "quantitative", "title": null, "scale": {"domain": [-0.1, 1.3], "nice": false, "zero": false},
     "axis": {"values": [0, 0.4, 0.8, 1.2], "format": ".1~f", "tickSize": 4, "labelPadding": 3}}
  },
  "layer": [
   {"data": {"name": "f_ref"}, "mark": {"type": "rule", "strokeDash": [4, 3], "color": "#222", "strokeWidth": 0.9},
    "encoding": {"y": {"field": "lo", "type": "quantitative"}, "y2": {"field": "hi"}}},
   {"data": {"name": "f_half"}, "mark": {"type": "rule", "strokeDash": [4, 3], "color": "#222", "strokeWidth": 0.9},
    "encoding": {"x2": {"field": "c2"}}},
   {"mark": {"type": "rule", "color": "#333", "strokeWidth": 0.9},
    "encoding": {"y": {"field": "lo", "type": "quantitative"}, "y2": {"field": "hi"}}},
   {"mark": {"type": "tick", "orient": "horizontal", "size": 5, "thickness": 0.9, "color": "#333"},
    "encoding": {"y": {"field": "lo", "type": "quantitative"}}},
   {"mark": {"type": "tick", "orient": "horizontal", "size": 5, "thickness": 0.9, "color": "#333"},
    "encoding": {"y": {"field": "hi", "type": "quantitative"}}},
   {"mark": {"type": "line", "color": "black", "strokeWidth": 1},
    "encoding": {"detail": {"field": "set"}}},
   {"mark": {"type": "point", "shape": "square", "filled": true, "stroke": "black", "strokeWidth": 1, "size": 52, "opacity": 1},
    "encoding": {"fill": {"field": "set", "type": "nominal", "scale": {"domain": ["open", "filled"], "range": ["white", "black"]}, "legend": null}}},
   {"data": {"values": [{"txt": "I/I", "c": 0.00065, "r": 0.41}]}, "mark": {"type": "text", "angle": 270, "fontSize": 12},
    "encoding": {"text": {"field": "txt"}}},
   {"data": {"values": [{"txt": "CTRL", "c": 0.00078, "r": 0.6}]}, "mark": {"type": "text", "angle": 270, "fontSize": 7},
    "encoding": {"text": {"field": "txt"}}},
   {"data": {"values": [{"txt": "F", "c": 0.00093, "r": 1.52}]}, "mark": {"type": "text", "fontSize": 14, "fontStyle": "italic"},
    "encoding": {"text": {"field": "txt"}}}
  ]
 }
]
}
